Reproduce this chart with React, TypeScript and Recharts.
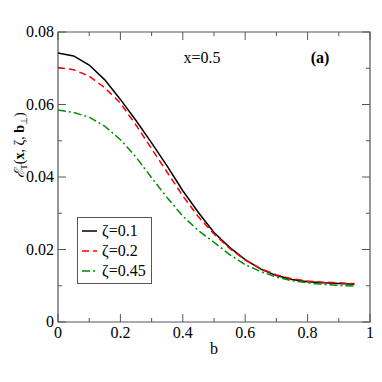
import React from "react";
import { LineChart, Line, XAxis, YAxis, Legend, Label, ReferenceArea } from "recharts";

const bValues = [0, 0.05, 0.1, 0.15, 0.2, 0.25, 0.3, 0.35, 0.4, 0.45, 0.5, 0.55, 0.6, 0.65, 0.7, 0.75, 0.8, 0.85, 0.9, 0.95];
const zeta01 = [0.0742, 0.0734, 0.0709, 0.0668, 0.0614, 0.0556, 0.0494, 0.043, 0.0362, 0.0302, 0.0247, 0.0206, 0.0172, 0.0146, 0.0128, 0.0117, 0.0111, 0.0108, 0.0106, 0.0104];
const zeta02 = [0.0702, 0.0696, 0.0678, 0.0646, 0.0604, 0.0543, 0.0478, 0.0413, 0.0348, 0.029, 0.0243, 0.0203, 0.0171, 0.0147, 0.013, 0.0119, 0.0113, 0.011, 0.0108, 0.0106];
const zeta045 = [0.0585, 0.0578, 0.0565, 0.054, 0.0503, 0.0455, 0.0398, 0.0343, 0.0292, 0.0252, 0.022, 0.0186, 0.0158, 0.0139, 0.0124, 0.0114, 0.0108, 0.0104, 0.0101, 0.0099];

const xTicks = [0, 0.1, 0.2, 0.3, 0.4, 0.5, 0.6, 0.7, 0.8, 0.9, 1];
const xMajorLabels: Record<string, string> = { "0": "0", "0.2": "0.2", "0.4": "0.4", "0.6": "0.6", "0.8": "0.8", "1": "1" };
const yTicks = [0, 0.01, 0.02, 0.03, 0.04, 0.05, 0.06, 0.07, 0.08];
const yMajorLabels: Record<string, string> = { "0": "0", "0.02": "0.02", "0.04": "0.04", "0.06": "0.06", "0.08": "0.08" };

const series = [
  { key: "z1", name: "ζ=0.1", color: "#000000", dash: undefined as string | undefined },
  { key: "z2", name: "ζ=0.2", color: "#ff0000", dash: "7 4" },
  { key: "z3", name: "ζ=0.45", color: "#008c00", dash: "8 3 2 3" },
];

const data = bValues.map((b, i) => ({ b, z1: zeta01[i], z2: zeta02[i], z3: zeta045[i] }));

// plot box (matches chart margins / axis sizes below)
const W = 382;
const H = 382;
const LEFT = 58;
const RIGHT = 370;
const TOP = 32;
const BOTTOM = 322;
const AXIS = "#555";

const font = "Liberation Serif";

const XTick = (props: any) => {
  const v = props.payload.value;
  const x = props.payload.coordinate;
  const label = xMajorLabels[String(v)];
  const len = label !== undefined ? 8 : 4;
  return (
    <g>
      <line x1={x} x2={x} y1={BOTTOM} y2={BOTTOM - len} stroke={AXIS} />
      <line x1={x} x2={x} y1={TOP} y2={TOP + len} stroke={AXIS} />
      {label !== undefined && (
        <text x={x} y={BOTTOM + 16} textAnchor="middle" fontSize={16} fill="#000" fontFamily={font}>
          {label}
        </text>
      )}
    </g>
  );
};

const YTick = (props: any) => {
  const v = props.payload.value;
  const y = props.payload.coordinate;
  const label = yMajorLabels[String(v)];
  const len = label !== undefined ? 8 : 4;
  return (
    <g>
      <line x1={LEFT} x2={LEFT + len} y1={y} y2={y} stroke={AXIS} />
      <line x1={RIGHT} x2={RIGHT - len} y1={y} y2={y} stroke={AXIS} />
      {label !== undefined && (
        <text x={LEFT - 4} y={y + 5} textAnchor="end" fontSize={16} fill="#000" fontFamily={font}>
          {label}
        </text>
      )}
    </g>
  );
};

const LegendBox = () => (
  <svg width={75} height={67} style={{ display: "block" }}>
    <rect x={0.5} y={0.5} width={74} height={66} fill="#fff" stroke={AXIS} strokeWidth={1} />
    {series.map((s, i) => (
      <g key={s.key}>
        <line x1={5} x2={20} y1={14 + i * 20} y2={14 + i * 20} stroke={s.color} strokeWidth={1.5} strokeDasharray={s.dash} />
        <text x={25} y={19 + i * 20} fontSize={16} fill="#000" fontFamily={font}>
          {s.name}
        </text>
      </g>
    ))}
  </svg>
);

const YTitle = () => {
  const cx = 20;
  const cy = 145;
  return (
    <text x={cx} y={cy} transform={`rotate(-90 ${cx} ${cy})`} textAnchor="middle" dy={4} fontSize={14} fill="#000" fontFamily={font}>
      <tspan fontStyle="italic">ℰ</tspan>
      <tspan fontSize={9} dy={3}>T</tspan>
      <tspan dy={-3}>(</tspan>
      <tspan fontWeight="bold">x</tspan>
      <tspan>, ζ, </tspan>
      <tspan fontWeight="bold">b</tspan>
      <tspan fontSize={9} dy={3}>⊥</tspan>
      <tspan dy={-3}>)</tspan>
    </text>
  );
};

const App: React.FC = () => {
  return (
    <div style={{ position: "absolute", left: 0, top: 0, width: W, height: H, background: "#fff", fontFamily: font }}>
      <LineChart width={W} height={H} data={data} margin={{ top: TOP, right: W - RIGHT, bottom: 0, left: 0 }}>
        <XAxis dataKey="b" type="number" domain={[0, 1]} ticks={xTicks} interval={0} height={H - BOTTOM}
          axisLine={false} tickLine={false} tick={<XTick />}>
          <Label value="b" position="insideTop" offset={21} fontFamily={font} fontSize={16} fill="#000" />
        </XAxis>
        <YAxis type="number" domain={[0, 0.08]} ticks={yTicks} interval={0} width={LEFT}
          axisLine={false} tickLine={false} tick={<YTick />}>
          <Label content={<YTitle />} />
        </YAxis>

        <ReferenceArea x1={0} x2={1} y1={0} y2={0.08} fill="none" stroke={AXIS} strokeWidth={1.2} fillOpacity={0} />

        {series.map((s) => (
          <Line key={s.key} type="linear" dataKey={s.key} name={s.name} stroke={s.color}
            strokeWidth={1.5} strokeDasharray={s.dash} dot={false} isAnimationActive={false} />
        ))}

        <Legend layout="vertical" align="center" verticalAlign="middle" content={<LegendBox />}
          wrapperStyle={{ position: "absolute", left: 77, top: 217, width: 75, height: 67 }} />

        <text x={202} y={63} textAnchor="middle" fontSize={16} fill="#000" fontFamily={font}>x=0.5</text>
        <text x={320} y={63} textAnchor="middle" fontSize={16} fontWeight="bold" fill="#000" fontFamily={font}>(a)</text>
      </LineChart>
    </div>
  );
};

export default App;
